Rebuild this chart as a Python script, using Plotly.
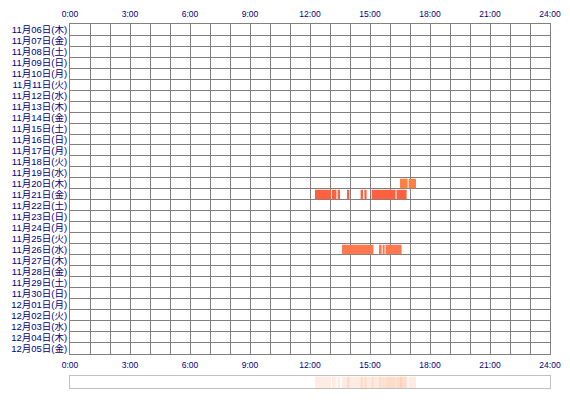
import plotly.graph_objects as go

# Row labels (one row per day)
day_labels = [
    "11月06日(木)", "11月07日(金)", "11月08日(土)", "11月09日(日)", "11月10日(月)",
    "11月11日(火)", "11月12日(水)", "11月13日(木)", "11月14日(金)", "11月15日(土)",
    "11月16日(日)", "11月17日(月)", "11月18日(火)", "11月19日(水)", "11月20日(木)",
    "11月21日(金)", "11月22日(土)", "11月23日(日)", "11月24日(月)", "11月25日(火)",
    "11月26日(水)", "11月27日(木)", "11月28日(金)", "11月29日(土)", "11月30日(日)",
    "12月01日(月)", "12月02日(火)", "12月03日(水)", "12月04日(木)", "12月05日(金)",
]

hour_ticks = [0, 3, 6, 9, 12, 15, 18, 21, 24]
hour_labels = ["0:00", "3:00", "6:00", "9:00", "12:00", "15:00", "18:00", "21:00", "24:00"]

# Active periods (start hour, end hour) per day
seg_1120 = [(16.5, 16.88), (16.93, 17.3)]
seg_1121 = [(12.25, 13.05), (13.12, 13.18), (13.24, 13.32), (13.38, 13.5),
            (13.88, 13.97), (14.53, 14.65), (14.72, 14.83), (15.08, 16.28),
            (16.33, 16.83)]
seg_1126 = [(13.6, 15.17), (15.45, 15.58), (15.63, 15.73), (15.78, 16.58)]

activity = {
    "11月20日(木)": (seg_1120, "#ff8040"),
    "11月21日(金)": (seg_1121, "#ff6040"),
    "11月26日(水)": (seg_1126, "#ff7850"),
}

NAVY = "#000080"
GRID = "#808080"

fig = go.Figure()

for label, (segs, color) in activity.items():
    row = day_labels.index(label) + 0.5
    fig.add_trace(go.Bar(
        orientation="h",
        y=[row] * len(segs),
        base=[s for s, e in segs],
        x=[e - s for s, e in segs],
        width=0.86,
        marker=dict(color=color, line=dict(width=0)),
        showlegend=False,
        hovertemplate=label + "<extra></extra>",
    ))

# summary strip: every period overlaid faintly
all_segs = seg_1120 + seg_1121 + seg_1126
for s, e in all_segs:
    fig.add_trace(go.Bar(
        orientation="h",
        y=[0], base=[s], x=[e - s],
        width=1,
        marker=dict(color="#ff9a70", line=dict(width=0)),
        opacity=0.2,
        xaxis="x3", yaxis="y2",
        showlegend=False,
        hoverinfo="skip",
    ))

# dummy trace so the top axis is drawn
fig.add_trace(go.Scatter(x=[0], y=[0.5], xaxis="x2", yaxis="y",
                         mode="markers", marker=dict(opacity=0),
                         showlegend=False, hoverinfo="skip"))

axis_common = dict(
    range=[0, 24],
    tickvals=hour_ticks,
    ticktext=hour_labels,
    tickfont=dict(family="Liberation Sans", size=8.5, color=NAVY),
    ticks="outside", ticklen=3, tickcolor="rgba(0,0,0,0)",
    zeroline=False,
    fixedrange=True,
    automargin=False,
)

# page body adds an 8px margin, so the figure is sized to fit inside it
fig.update_layout(
    width=562, height=392,
    margin=dict(l=62, r=20, t=16, b=10),
    paper_bgcolor="white",
    plot_bgcolor="white",
    barmode="overlay",
    xaxis=dict(
        **axis_common,
        anchor="y",
        showgrid=True, gridcolor=GRID, gridwidth=1,
        minor=dict(dtick=1, showgrid=True, gridcolor=GRID, gridwidth=1),
        showline=True, linecolor=GRID, mirror=True,
    ),
    xaxis2=dict(
        **axis_common,
        overlaying="x", side="top", anchor="y",
        showgrid=False,
    ),
    xaxis3=dict(
        range=[0, 24], anchor="y2",
        showticklabels=False, showgrid=False, zeroline=False,
        showline=True, linecolor="#c0c0c0", mirror=True,
        automargin=False,
    ),
    yaxis=dict(
        domain=[0.0984, 1],
        range=[30, 0],
        tickvals=[i + 0.5 for i in range(len(day_labels))],
        ticktext=day_labels,
        tickfont=dict(family="Liberation Sans, Noto Sans CJK JP", size=9.5, color=NAVY),
        ticks="",
        showgrid=False,
        minor=dict(tickvals=list(range(len(day_labels) + 1)),
                   showgrid=True, gridcolor=GRID, gridwidth=1, ticks=""),
        showline=True, linecolor=GRID, mirror=True,
        zeroline=False,
        fixedrange=True,
        automargin=False,
    ),
    yaxis2=dict(
        domain=[0.0055, 0.037],
        anchor="x3",
        range=[-0.5, 0.5],
        showticklabels=False, showgrid=False, zeroline=False,
        showline=True, linecolor="#c0c0c0", mirror=True,
        automargin=False,
    ),
)

fig.write_html("out.html")
